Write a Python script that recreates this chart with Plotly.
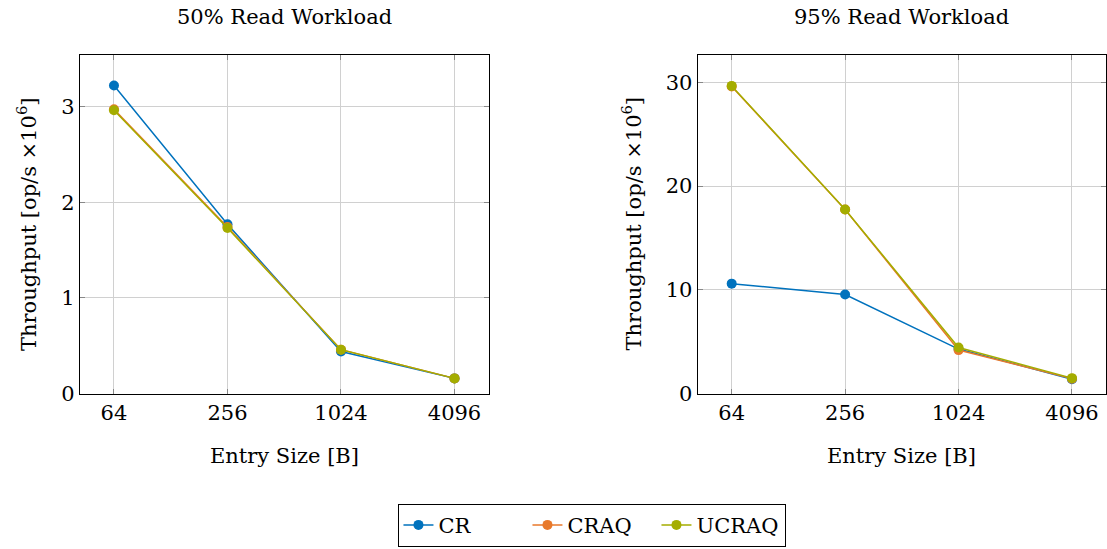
import math
import plotly.graph_objects as go

entry_sizes = [64, 256, 1024, 4096]
tick_labels = ["64", "256", "1024", "4096"]

# 50% read workload (op/s x10^6)
cr_50 = [3.22, 1.77, 0.44, 0.16]
craq_50 = [2.97, 1.74, 0.46, 0.16]
ucraq_50 = [2.96, 1.73, 0.46, 0.16]

# 95% read workload (op/s x10^6)
cr_95 = [10.6, 9.55, 4.3, 1.4]
craq_95 = [29.6, 17.75, 4.2, 1.45]
ucraq_95 = [29.65, 17.75, 4.45, 1.5]

series_names = ["CR", "CRAQ", "UCRAQ"]
colors = ["#0072BD", "#E8792B", "#A4AD00"]

W, H = 1107, 549
FONT = "DejaVu Serif"
FS = 21

fig = go.Figure()

for i, (name, vals) in enumerate(zip(series_names, [cr_50, craq_50, ucraq_50])):
    fig.add_trace(go.Scatter(x=entry_sizes, y=vals, name=name, mode="lines+markers",
                             line=dict(color=colors[i], width=1.5),
                             marker=dict(color=colors[i], size=10),
                             xaxis="x", yaxis="y", legendgroup=name, showlegend=True))
for i, (name, vals) in enumerate(zip(series_names, [cr_95, craq_95, ucraq_95])):
    fig.add_trace(go.Scatter(x=entry_sizes, y=vals, name=name, mode="lines+markers",
                             line=dict(color=colors[i], width=1.5),
                             marker=dict(color=colors[i], size=10),
                             xaxis="x2", yaxis="y2", legendgroup=name, showlegend=False))

lo = math.log10(64) - 0.3 * math.log10(4)
hi = math.log10(4096) + 0.3 * math.log10(4)

y_dom = [1 - 402.5 / H, 1 - 56.5 / H]
common_x = dict(type="log", range=[lo, hi], tickvals=entry_sizes, ticktext=tick_labels,
                showgrid=True, gridcolor="#d0d0d0", gridwidth=1,
                showline=True, linecolor="black", linewidth=1, mirror="ticks",
                ticks="inside", ticklen=5, tickcolor="#888888",
                tickfont=dict(family=FONT, size=FS, color="black"), zeroline=False)
common_y = dict(showgrid=True, gridcolor="#d0d0d0", gridwidth=1,
                showline=True, linecolor="black", linewidth=1, mirror="ticks",
                ticks="inside", ticklen=5, tickcolor="#888888",
                tickfont=dict(family=FONT, size=FS, color="black"), zeroline=False,
                domain=y_dom)

fig.update_layout(
    width=W, height=H,
    margin=dict(l=0, r=0, t=0, b=0),
    paper_bgcolor="white", plot_bgcolor="white",
    font=dict(family=FONT, size=FS, color="black"),
    xaxis=dict(common_x, domain=[80 / W, 489 / W], anchor="y"),
    yaxis=dict(common_y, range=[0, 3.535], tickvals=[0, 1, 2, 3], anchor="x"),
    xaxis2=dict(common_x, domain=[698.3 / W, 1.0], anchor="y2"),
    yaxis2=dict(common_y, range=[0, 32.6], tickvals=[0, 10, 20, 30], anchor="x2"),
    legend=dict(orientation="h", x=593 / W, xanchor="center", y=1 - 515 / H, yanchor="top",
                bordercolor="black", borderwidth=1, bgcolor="white",
                font=dict(family=FONT, size=FS), itemwidth=30,
                entrywidth=84, entrywidthmode="pixels",
                tracegroupgap=0),
    showlegend=True,
)

annotations = [
    dict(text="50% Read Workload", x=284.5 / W, y=1 - 17.5 / H),
    dict(text="95% Read Workload", x=902.5 / W, y=1 - 17.5 / H),
    dict(text="Entry Size [B]", x=284.5 / W, y=1 - 466 / H),
    dict(text="Entry Size [B]", x=902.5 / W, y=1 - 466 / H),
    dict(text="Throughput [op/s ×10<sup>6</sup>]", x=27 / W, y=1 - 229 / H, textangle=-90),
    dict(text="Throughput [op/s ×10<sup>6</sup>]", x=633 / W, y=1 - 229 / H, textangle=-90),
]
for a in annotations:
    fig.add_annotation(xref="paper", yref="paper", showarrow=False,
                       xanchor="center", yanchor="middle",
                       font=dict(family=FONT, size=FS, color="black"), **a)

fig.write_html("out.html")
